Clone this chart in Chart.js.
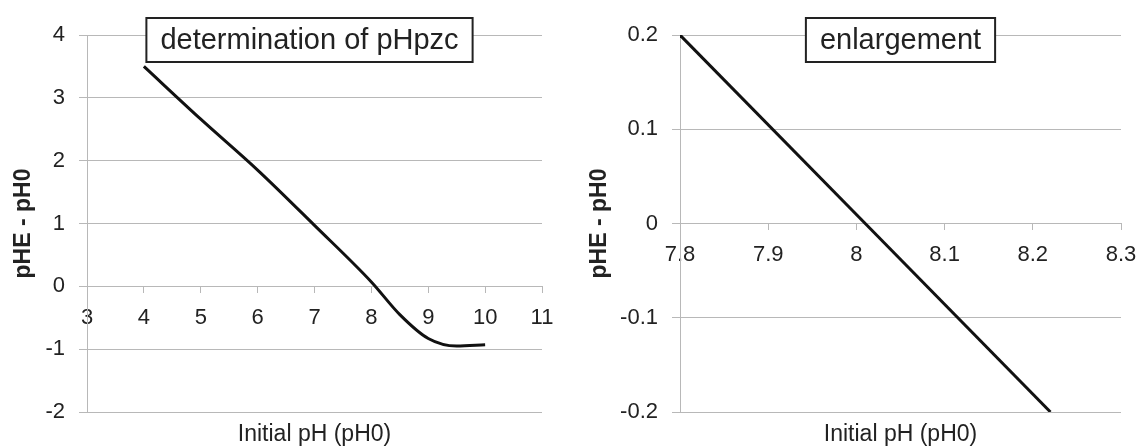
<!DOCTYPE html>
<html>
<head>
<meta charset="utf-8">
<script src="https://cdn.jsdelivr.net/npm/chart.js@4.4.0/dist/chart.umd.min.js"></script>
<style>
  body { margin: 0; background: #fff; }
  #wrap { display: flex; width: 1140px; height: 448px; overflow: hidden; }
  .panel { width: 570px; height: 448px; overflow: hidden; flex: none; }
  canvas { display: block; }
</style>
</head>
<body>
<div id="wrap">
  <div class="panel"><canvas id="pzcChart" width="570" height="448"></canvas></div>
  <div class="panel"><canvas id="zoomChart" width="590" height="448"></canvas></div>
</div>
<script>
// left panel: full titration curve
const pzcX = [4, 5, 6, 7, 8, 8.5, 9, 9.5, 10];
const pzcY = [3.5, 2.66, 1.85, 0.97, 0.07, -0.45, -0.83, -0.95, -0.93];
const pzcXTicks = [3, 4, 5, 6, 7, 8, 9, 10, 11];
const pzcYTicks = [-2, -1, 0, 1, 2, 3, 4];
const pzcXLabels = ["3", "4", "5", "6", "7", "8", "9", "10", "11"];
const pzcYLabels = ["-2", "-1", "0", "1", "2", "3", "4"];

// right panel: enlargement around the zero crossing
const zoomX = [7.8, 8.01, 8.22];
const zoomY = [0.2, 0, -0.2];
const zoomXTicks = [7.8, 7.9, 8, 8.1, 8.2, 8.3];
const zoomYTicks = [-0.2, -0.1, 0, 0.1, 0.2];
const zoomXLabels = ["7.8", "7.9", "8", "8.1", "8.2", "8.3"];
const zoomYLabels = ["-0.2", "-0.1", "0", "0.1", "0.2"];

const FONT = "'Liberation Sans', Arial, sans-serif";
const GRID = "#b8b8b8";
const TEXT = "#222";

// boxed caption drawn over the top of the plot
const boxTitle = {
  id: "boxTitle",
  afterDraw(chart, args, opts) {
    const ctx = chart.ctx;
    const area = chart.chartArea;
    ctx.save();
    ctx.font = "29px " + FONT;
    const w = ctx.measureText(opts.text).width + 28;
    const h = 44;
    const cx = (area.left + area.right) / 2 + (opts.shift || 0);
    const cy = area.top + 5;
    ctx.fillStyle = "#fff";
    ctx.fillRect(cx - w / 2, cy - h / 2, w, h);
    ctx.lineWidth = 2;
    ctx.strokeStyle = "#222";
    ctx.strokeRect(cx - w / 2, cy - h / 2, w, h);
    ctx.fillStyle = TEXT;
    ctx.textAlign = "center";
    ctx.textBaseline = "middle";
    ctx.fillText(opts.text, cx, cy + 1);
    ctx.restore();
  },
};

function makeChart(id, xs, ys, xTicks, yTicks, xLabels, yLabels, yWidth, titlePad, padRight, caption, shift, smooth) {
  const ctx = document.getElementById(id).getContext("2d");
  return new Chart(ctx, {
    type: "scatter",
    data: {
      datasets: [
        {
          data: xs.map((x, i) => ({ x: x, y: ys[i] })),
          showLine: true,
          borderColor: "#111",
          borderWidth: 3,
          pointRadius: 0,
          cubicInterpolationMode: smooth ? "monotone" : "default",
          tension: 0,
        },
      ],
    },
    plugins: [boxTitle],
    options: {
      responsive: false,
      animation: false,
      devicePixelRatio: 1,
      layout: { padding: { top: 35, right: padRight, left: 0, bottom: 0 } },
      plugins: {
        legend: { display: false },
        tooltip: { enabled: false },
        boxTitle: { text: caption, shift: shift },
      },
      scales: {
        x: {
          type: "linear",
          min: xTicks[0],
          max: xTicks[xTicks.length - 1],
          position: { y: 0 },
          afterBuildTicks: (s) => { s.ticks = xTicks.map((v) => ({ value: v })); },
          ticks: {
            callback: (v, i) => xLabels[i],
            font: { family: FONT, size: 22 },
            color: TEXT,
            padding: 12,
            autoSkip: false,
            maxRotation: 0,
          },
          grid: { drawOnChartArea: false, color: GRID, tickLength: 6 },
          border: { color: GRID },
        },
        xTitle: {
          type: "linear",
          axis: "x",
          position: "bottom",
          ticks: { display: false },
          grid: { display: false },
          border: { display: false },
          title: {
            display: true,
            text: "Initial pH (pH0)",
            font: { family: FONT, size: 23 },
            color: TEXT,
            padding: { top: 6, bottom: 0 },
          },
          afterFit: (s) => { s.height = 36; },
        },
        y: {
          type: "linear",
          min: yTicks[0],
          max: yTicks[yTicks.length - 1],
          afterBuildTicks: (s) => { s.ticks = yTicks.map((v) => ({ value: v })); },
          ticks: {
            callback: (v, i) => yLabels[i],
            font: { family: FONT, size: 22 },
            color: TEXT,
            padding: 14,
          },
          grid: { color: GRID, tickLength: 8 },
          border: { color: GRID },
          title: {
            display: true,
            text: "pHE - pH0",
            font: { family: FONT, size: 23, weight: "bold" },
            color: TEXT,
            padding: { top: titlePad, bottom: 0 },
          },
          afterFit: (s) => { s.width = yWidth; },
        },
      },
    },
  });
}

makeChart("pzcChart", pzcX, pzcY, pzcXTicks, pzcYTicks, pzcXLabels, pzcYLabels,
  87, 10, 28, "determination of pHpzc", -5, true);
// right canvas is a little wider than its panel so the 8.3 label runs off the edge
makeChart("zoomChart", zoomX, zoomY, zoomXTicks, zoomYTicks, zoomXLabels, zoomYLabels,
  110, 16, 39, "enlargement", 0, false);
</script>
</body>
</html>
